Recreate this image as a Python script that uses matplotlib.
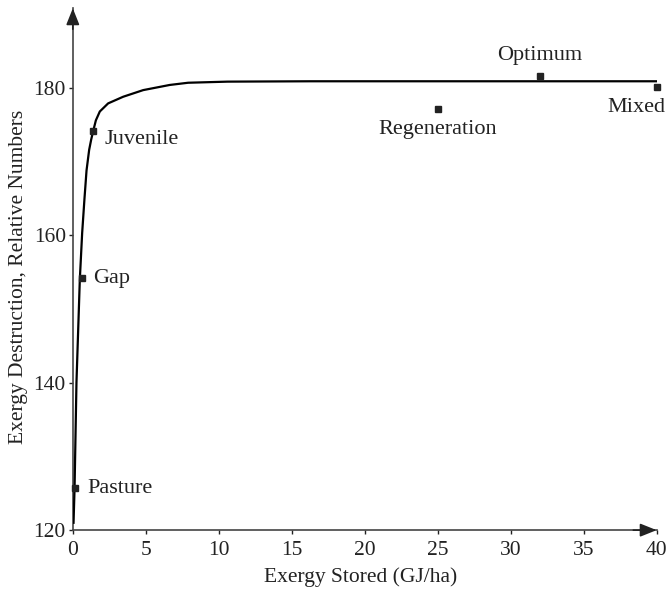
import numpy as np
import matplotlib
matplotlib.use('Agg')
from matplotlib import pyplot as plt

plt.rcParams['font.family'] = ['Liberation Serif', 'DejaVu Serif']

# curve
curve_x = [0.05, 0.12, 0.25, 0.48, 0.64, 0.8, 0.94, 1.12, 1.26, 1.39, 1.58, 1.85,
           2.42, 3.45, 4.82, 6.64, 7.9, 10.6, 16.3, 40.0]
curve_y = [121.0, 125.7, 140.0, 154.0, 160.3, 165.0, 168.8, 171.6, 173.0, 174.1,
           175.6, 176.8, 177.9, 178.8, 179.7, 180.4, 180.7, 180.85, 180.9, 180.9]

# stages
names = ['Pasture', 'Gap', 'Juvenile', 'Regeneration', 'Optimum', 'Mixed']
stored = [0.14, 0.6, 1.37, 25.0, 32.0, 40.0]
destruction = [125.7, 154.2, 174.1, 177.1, 181.6, 180.1]

# label offsets (points) and alignment
offsets = [(9, 0), (8, 0), (8.5, -6), (0, -14.5), (0, 15), (6, -14.5)]
aligns = ['left', 'left', 'left', 'center', 'center', 'right']

fig = plt.figure(figsize=(6.68, 5.93), dpi=100)
ax = fig.add_axes([0.109, 0.106, 0.874, 0.88])

ax.plot(curve_x, curve_y, '-', color='black', lw=1.6, zorder=3,
        solid_joinstyle='round')
ax.plot(stored, destruction, 's', color='#222222', ms=5, zorder=4, clip_on=False)

for n, xv, yv, off, ha in zip(names, stored, destruction, offsets, aligns):
    ax.annotate(n, (xv, yv), xytext=off, textcoords='offset points',
                ha=ha, va='center', fontsize=16, color='#222222',
                annotation_clip=False)

ax.set_xlim(0, 40)
ax.set_ylim(120, 190.8)
ax.set_xticks(range(0, 41, 5))
ax.set_yticks([120, 140, 160, 180])

for s in ['top', 'right']:
    ax.spines[s].set_visible(False)
for s in ['left', 'bottom']:
    ax.spines[s].set_color('#444444')
    ax.spines[s].set_linewidth(1.2)

# arrow heads at the ends of the axes
head = dict(arrowstyle='-|>,head_length=0.5,head_width=0.2', color='#222222',
            mutation_scale=20, shrinkA=0, shrinkB=0, lw=1.2)
ax.annotate('', xy=(1, 0), xytext=(0.96, 0), xycoords='axes fraction',
            arrowprops=head)
ax.annotate('', xy=(0, 1), xytext=(0, 0.96), xycoords='axes fraction',
            arrowprops=head)

ax.tick_params(direction='out', length=3, width=1, labelsize=15.5, colors='#222222')
ax.tick_params(axis='x', pad=5)
ax.tick_params(axis='y', pad=2)
ax.set_xlabel('Exergy Stored (GJ/ha)', fontsize=15.5, color='#222222')
ax.set_ylabel('Exergy Destruction, Relative Numbers', fontsize=15.5, color='#222222')
ax.xaxis.set_label_coords(0.493, -0.071)
ax.yaxis.set_label_coords(-0.077, 0.485)

plt.savefig('out.png', dpi=100)
